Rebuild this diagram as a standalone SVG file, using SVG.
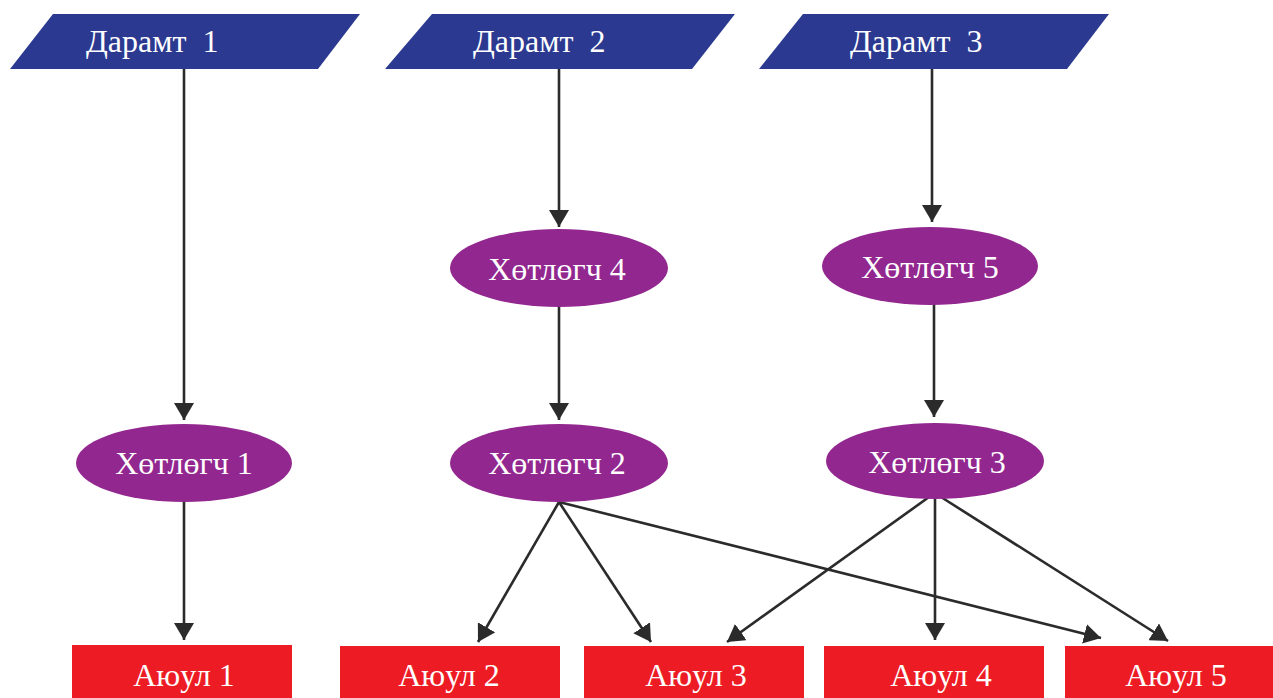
<svg xmlns="http://www.w3.org/2000/svg" width="1273" height="698" viewBox="0 0 1273 698">
<style>
.para{fill:#2B3990}
.ell{fill:#92278F}
.box{fill:#ED1C24}
text{font-family:"Liberation Serif","Times New Roman",serif;fill:#ffffff;font-size:32px}
.c{text-anchor:middle}
.edge{stroke:#2b2b2b;stroke-width:2.6;fill:none;marker-end:url(#ah)}
</style>
<defs>
<marker id="ah" viewBox="0 0 17 20" refX="17" refY="10" markerWidth="17" markerHeight="20" markerUnits="userSpaceOnUse" orient="auto">
<path d="M0,0 L17,10 L0,20 z" fill="#2b2b2b"/>
</marker>
</defs>
<g id="connectors">
<line class="edge" x1="184" y1="69" x2="184" y2="420"/>
<line class="edge" x1="559" y1="69" x2="559" y2="227"/>
<line class="edge" x1="932" y1="69" x2="932" y2="222"/>
<line class="edge" x1="559" y1="307" x2="559" y2="420"/>
<line class="edge" x1="934" y1="304" x2="934" y2="417"/>
<line class="edge" x1="184" y1="502" x2="184" y2="640"/>
<line class="edge" x1="559" y1="502" x2="478" y2="642"/>
<line class="edge" x1="559" y1="502" x2="651" y2="642"/>
<line class="edge" x1="559" y1="502" x2="1101" y2="638"/>
<line class="edge" x1="929" y1="497" x2="727" y2="642"/>
<line class="edge" x1="935" y1="497" x2="935" y2="640"/>
<line class="edge" x1="941" y1="497" x2="1168" y2="641"/>
</g>
<g id="daramt1"><polygon class="para" points="53,14 360,14 318,69 10,69"/><text x="86" y="52" xml:space="preserve">Дарамт  1</text></g>
<g id="daramt2"><polygon class="para" points="432,14 735,14 692,69 385,69"/><text x="473" y="52" xml:space="preserve">Дарамт  2</text></g>
<g id="daramt3"><polygon class="para" points="803,14 1109,14 1067,69 759,69"/><text x="850" y="52" xml:space="preserve">Дарамт  3</text></g>
<g id="hotlogch4"><ellipse class="ell" cx="559" cy="268" rx="109" ry="39"/><text class="c" x="557" y="280">Хөтлөгч 4</text></g>
<g id="hotlogch5"><ellipse class="ell" cx="930" cy="266" rx="108" ry="39"/><text class="c" x="930" y="278">Хөтлөгч 5</text></g>
<g id="hotlogch1"><ellipse class="ell" cx="184" cy="463" rx="108" ry="39"/><text class="c" x="184" y="474">Хөтлөгч 1</text></g>
<g id="hotlogch2"><ellipse class="ell" cx="559" cy="463" rx="109" ry="39"/><text class="c" x="557" y="474">Хөтлөгч 2</text></g>
<g id="hotlogch3"><ellipse class="ell" cx="935" cy="461" rx="109" ry="38"/><text class="c" x="937" y="473">Хөтлөгч 3</text></g>
<g id="ayul1"><rect class="box" x="72" y="645" width="220" height="53"/><text class="c" x="184" y="686">Аюул 1</text></g>
<g id="ayul2"><rect class="box" x="340" y="646" width="220" height="52"/><text class="c" x="449" y="686">Аюул 2</text></g>
<g id="ayul3"><rect class="box" x="584" y="646" width="220" height="52"/><text class="c" x="696" y="686">Аюул 3</text></g>
<g id="ayul4"><rect class="box" x="824" y="646" width="220" height="52"/><text class="c" x="941" y="686">Аюул 4</text></g>
<g id="ayul5"><rect class="box" x="1065" y="646" width="208" height="52"/><text class="c" x="1176" y="686">Аюул 5</text></g>
</svg>
